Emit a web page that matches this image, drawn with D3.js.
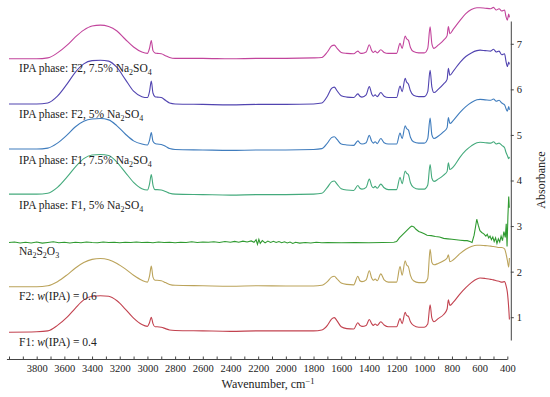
<!DOCTYPE html>
<html>
<head>
<meta charset="utf-8">
<script src="https://cdn.jsdelivr.net/npm/d3@7"></script>
<style>
  body { margin: 0; background: white; }
  text { font-family: "Liberation Serif", "DejaVu Serif", serif; fill: #222; }
</style>
</head>
<body>
<script>
// Data
const wavenumbers = [4000, 3800, 3720, 3650, 3580, 3520, 3460, 3400, 3340, 3280,
  3220, 3160, 3100, 3040, 3000, 2985, 2972, 2960, 2945, 2930,
  2900, 2870, 2840, 2800, 2600, 2400, 2200, 2000, 1800, 1740,
  1700, 1670, 1650, 1630, 1600, 1560, 1510, 1480, 1465, 1450,
  1420, 1397, 1380, 1368, 1355, 1340, 1314, 1290, 1260, 1200,
  1175, 1160, 1138, 1128, 1115, 1100, 1078, 1040, 1000, 975,
  958, 945, 930, 900, 860, 835, 826, 815, 790, 740,
  700, 660, 620, 597, 560, 520, 500, 480, 460, 440,
  420, 410, 400, 390, 385];

const f1Ipa04 = [0.67, 0.68, 0.70, 0.82, 1.00, 1.20, 1.38, 1.46, 1.47, 1.46,
  1.36, 1.18, 0.98, 0.84, 0.80, 0.88, 1.00, 0.86, 0.79, 0.79,
  0.78, 0.75, 0.72, 0.71, 0.70, 0.69, 0.70, 0.70, 0.70, 0.72,
  0.82, 0.96, 0.99, 0.92, 0.79, 0.75, 0.74, 0.88, 0.82, 0.80,
  0.82, 0.95, 0.86, 0.82, 0.85, 0.82, 0.90, 0.83, 0.79, 0.79,
  0.97, 0.86, 1.11, 1.04, 1.02, 0.90, 0.82, 0.78, 0.78, 0.85,
  1.27, 0.98, 0.90, 0.97, 1.06, 1.18, 1.38, 1.26, 1.33, 1.52,
  1.65, 1.76, 1.84, 1.86, 1.85, 1.83, 1.82, 1.80, 1.79, 1.77,
  1.78, 1.70, 1.55, 1.20, 0.95];

const f2Ipa06 = [1.67, 1.67, 1.69, 1.78, 1.93, 2.08, 2.20, 2.27, 2.29, 2.26,
  2.18, 2.06, 1.92, 1.81, 1.77, 1.90, 2.12, 1.88, 1.81, 1.81,
  1.80, 1.76, 1.72, 1.70, 1.69, 1.68, 1.69, 1.685, 1.685, 1.70,
  1.78, 1.88, 1.90, 1.84, 1.75, 1.72, 1.71, 1.90, 1.80, 1.78,
  1.82, 2.02, 1.86, 1.81, 1.84, 1.80, 1.95, 1.82, 1.77, 1.77,
  2.11, 1.92, 2.24, 2.15, 2.11, 1.92, 1.80, 1.76, 1.76, 1.85,
  2.49, 2.20, 2.15, 2.18, 2.24, 2.30, 2.37, 2.22, 2.26, 2.40,
  2.49, 2.55, 2.58, 2.58, 2.57, 2.56, 2.55, 2.54, 2.53, 2.53,
  2.50, 2.40, 2.25, 2.10, 2.30];

const ipaF1Na5 = [3.70, 3.70, 3.72, 3.85, 4.08, 4.30, 4.48, 4.56, 4.57, 4.55,
  4.40, 4.18, 3.96, 3.82, 3.79, 3.92, 4.13, 3.90, 3.80, 3.80,
  3.79, 3.76, 3.72, 3.70, 3.69, 3.68, 3.69, 3.69, 3.70, 3.72,
  3.85, 3.97, 3.99, 3.92, 3.82, 3.79, 3.78, 3.89, 3.83, 3.81,
  3.85, 4.03, 3.88, 3.84, 3.87, 3.83, 3.92, 3.84, 3.80, 3.80,
  4.07, 3.93, 4.21, 4.16, 4.13, 3.95, 3.85, 3.81, 3.81, 3.90,
  4.35, 4.05, 3.98, 4.03, 4.12, 4.20, 4.39, 4.24, 4.30, 4.52,
  4.66, 4.76, 4.83, 4.84, 4.83, 4.82, 4.85, 4.80, 4.82, 4.77,
  4.72, 4.62, 4.55, 4.48, 4.52];

const ipaF1Na75 = [4.69, 4.69, 4.71, 4.82, 5.00, 5.18, 5.30, 5.35, 5.36, 5.33,
  5.20, 5.02, 4.87, 4.80, 4.78, 4.88, 5.05, 4.86, 4.81, 4.80,
  4.79, 4.75, 4.70, 4.68, 4.67, 4.66, 4.67, 4.67, 4.68, 4.70,
  4.82, 4.94, 4.96, 4.90, 4.80, 4.78, 4.77, 4.87, 4.82, 4.80,
  4.83, 4.99, 4.86, 4.82, 4.85, 4.81, 4.92, 4.83, 4.80, 4.80,
  5.04, 4.92, 5.20, 5.14, 5.11, 4.95, 4.85, 4.82, 4.82, 4.92,
  5.37, 5.00, 4.92, 4.97, 5.07, 5.16, 5.38, 5.25, 5.32, 5.50,
  5.62, 5.71, 5.77, 5.78, 5.77, 5.76, 5.79, 5.74, 5.76, 5.70,
  5.66, 5.58, 5.52, 5.62, 5.55];

const ipaF2Na5 = [5.68, 5.68, 5.70, 5.85, 6.12, 6.38, 6.56, 6.63, 6.64, 6.62,
  6.48, 6.22, 5.96, 5.84, 5.82, 5.95, 6.18, 5.92, 5.84, 5.83,
  5.82, 5.76, 5.70, 5.68, 5.67, 5.66, 5.67, 5.67, 5.68, 5.70,
  5.85, 6.02, 6.05, 5.97, 5.86, 5.83, 5.82, 5.90, 5.85, 5.83,
  5.88, 6.06, 5.90, 5.85, 5.88, 5.84, 5.93, 5.85, 5.82, 5.82,
  6.07, 5.95, 6.24, 6.16, 6.12, 5.97, 5.87, 5.84, 5.84, 5.95,
  6.42, 6.05, 5.93, 6.00, 6.12, 6.22, 6.46, 6.31, 6.40, 6.60,
  6.72, 6.80, 6.85, 6.86, 6.85, 6.84, 6.88, 6.82, 6.84, 6.76,
  6.78, 6.62, 6.50, 6.60, 6.55];

const ipaF2Na75 = [6.67, 6.67, 6.69, 6.80, 6.97, 7.15, 7.30, 7.39, 7.41, 7.38,
  7.28, 7.10, 6.93, 6.82, 6.79, 6.90, 7.07, 6.85, 6.80, 6.79,
  6.78, 6.74, 6.70, 6.68, 6.68, 6.67, 6.68, 6.68, 6.69, 6.70,
  6.82, 6.95, 6.97, 6.90, 6.81, 6.79, 6.78, 6.84, 6.80, 6.79,
  6.82, 6.98, 6.85, 6.81, 6.84, 6.80, 6.87, 6.81, 6.79, 6.79,
  7.01, 6.90, 7.17, 7.11, 7.08, 6.92, 6.83, 6.80, 6.80, 6.90,
  7.37, 7.00, 6.90, 6.97, 7.08, 7.18, 7.38, 7.22, 7.32, 7.52,
  7.66, 7.75, 7.79, 7.79, 7.78, 7.77, 7.80, 7.74, 7.77, 7.72,
  7.74, 7.60, 7.52, 7.65, 7.58];

// Na2S2O3 has its own (noisy) points: [wavenumber, absorbance]
const na2s2o3 = [[4000, 2.64], [3960, 2.65], [3920, 2.63], [3880, 2.645], [3840, 2.63],
  [3800, 2.65], [3760, 2.625], [3720, 2.64], [3680, 2.655], [3640, 2.635], [3600, 2.645],
  [3560, 2.63], [3520, 2.645], [3480, 2.635], [3440, 2.65], [3400, 2.64], [3360, 2.635],
  [3320, 2.65], [3280, 2.64], [3240, 2.645], [3200, 2.635], [3160, 2.645], [3120, 2.64],
  [3080, 2.65], [3040, 2.64], [3000, 2.645], [2960, 2.635], [2920, 2.65], [2880, 2.64],
  [2840, 2.645], [2800, 2.635], [2760, 2.645], [2720, 2.64], [2680, 2.655], [2640, 2.64],
  [2600, 2.65], [2560, 2.645], [2520, 2.655], [2480, 2.64], [2440, 2.66], [2400, 2.645],
  [2370, 2.665], [2340, 2.645], [2310, 2.67], [2280, 2.65], [2250, 2.675], [2230, 2.645],
  [2215, 2.70], [2205, 2.60], [2195, 2.71], [2185, 2.62], [2170, 2.68], [2150, 2.63],
  [2130, 2.67], [2110, 2.64], [2090, 2.665], [2070, 2.64], [2050, 2.66], [2030, 2.635],
  [2010, 2.655], [1990, 2.63], [1970, 2.65], [1950, 2.62], [1930, 2.645], [1900, 2.625],
  [1860, 2.64], [1820, 2.63], [1780, 2.645], [1740, 2.635], [1700, 2.64], [1600, 2.635],
  [1500, 2.64], [1400, 2.635], [1300, 2.64], [1220, 2.645], [1200, 2.66], [1180, 2.74],
  [1160, 2.80], [1140, 2.86], [1120, 2.92], [1100, 2.98], [1090, 3.0], [1075, 2.98],
  [1060, 2.93], [1040, 2.88], [1020, 2.86], [1000, 2.83], [980, 2.80], [950, 2.79],
  [920, 2.77], [890, 2.76], [860, 2.73], [830, 2.72], [800, 2.71], [770, 2.70],
  [740, 2.69], [710, 2.68], [690, 2.68], [670, 2.66], [655, 2.64], [640, 2.80],
  [630, 2.98], [621, 3.15], [610, 3.02], [598, 2.90], [585, 2.86], [570, 2.83],
  [555, 2.78], [545, 2.82], [535, 2.74], [525, 2.78], [515, 2.70], [505, 2.76],
  [495, 2.66], [485, 2.74], [475, 2.62], [465, 2.72], [455, 2.65], [445, 2.78],
  [435, 2.68], [425, 2.88], [415, 2.75], [408, 3.05], [402, 2.55], [396, 3.20],
  [390, 3.65], [386, 3.40]];

const seriesLabels = [
  'F1: <i>w</i>(IPA) = 0.4',
  'F2: <i>w</i>(IPA) = 0.6',
  'Na<sub>2</sub>S<sub>2</sub>O<sub>3</sub>',
  'IPA phase: F1, 5% Na<sub>2</sub>SO<sub>4</sub>',
  'IPA phase: F1, 7.5% Na<sub>2</sub>SO<sub>4</sub>',
  'IPA phase: F2, 5% Na<sub>2</sub>SO<sub>4</sub>',
  'IPA phase: F2, 7.5% Na<sub>2</sub>SO<sub>4</sub>'
];
const seriesColors = ['#c2424f', '#bba35a', '#2f9a30', '#44aa7c', '#3f7cbd', '#5144b0', '#c2449c'];

const xLabelValues = [3800, 3600, 3400, 3200, 3000, 2800, 2600, 2400, 2200,
  2000, 1800, 1600, 1400, 1200, 1000, 800, 600, 400];
const yTickValues = [1, 2, 3, 4, 5, 6, 7];

let svg = '';

window.onload = function () {
  svg = d3.select('body')
    .append('svg')
    .attr('width', 550)
    .attr('height', 397);
  drawPlot();
}

function drawPlot() {
  let map = drawAxes();
  makeLabels();

  let ipaSeries = [f1Ipa04, f2Ipa06, null, ipaF1Na5, ipaF1Na75, ipaF2Na5, ipaF2Na75];
  let allSeries = ipaSeries.map((vals, i) => {
    if (vals === null) return na2s2o3;
    return wavenumbers.map((w, j) => [w, vals[j]]);
  });

  let smooth = d3.line()
    .x((d) => map.xScale(d[0]))
    .y((d) => map.yScale(d[1]))
    .curve(d3.curveMonotoneX);
  let raw = d3.line()
    .x((d) => map.xScale(d[0]))
    .y((d) => map.yScale(d[1]));

  svg.selectAll('.spectrum')
    .data(allSeries)
    .enter()
    .append('path')
    .attr('class', 'spectrum')
    .attr('fill', 'none')
    .attr('stroke', (d, i) => seriesColors[i])
    .attr('stroke-width', 1.1)
    .attr('d', (d, i) => i === 2 ? raw(d) : smooth(d));

  // series names, one above each baseline
  svg.selectAll('.name')
    .data(seriesLabels)
    .enter()
    .append('text')
    .attr('class', 'name')
    .attr('x', 19)
    .attr('y', (d, i) => map.yScale(i + 0.37))
    .style('font-size', '11.5px')
    .each(function (d) { addRichText(d3.select(this), d); });
}

// turn the little <i>/<sub> markup into tspans
function addRichText(el, str) {
  let parts = str.split(/(<sub>.*?<\/sub>|<i>.*?<\/i>)/).filter((p) => p.length);
  let shifted = false;
  parts.forEach((p) => {
    let t = el.append('tspan');
    if (p.startsWith('<sub>')) {
      t.text(p.replace(/<\/?sub>/g, ''))
        .style('font-size', '8px')
        .attr('dy', shifted ? 0 : 3);
      shifted = true;
    } else {
      t.text(p.replace(/<\/?i>/g, ''));
      if (p.startsWith('<i>')) t.style('font-style', 'italic');
      if (shifted) { t.attr('dy', -3); shifted = false; }
    }
  });
}

// Axis & Labels
function makeLabels() {
  let xl = svg.append('text')
    .attr('x', 268)
    .attr('y', 388)
    .attr('text-anchor', 'middle')
    .style('font-size', '12px')
    .text('Wavenumber, cm');
  xl.append('tspan')
    .attr('dy', -4)
    .style('font-size', '8.5px')
    .text('\u22121');

  svg.append('text')
    .attr('transform', 'translate(545, 180)rotate(-90)')
    .attr('text-anchor', 'middle')
    .style('font-size', '12px')
    .text('Absorbance');
}

function drawAxes() {
  let xScale = d3.scaleLinear()
    .domain([4000, 375])
    .range([9, 510.8]);

  let yScale = d3.scaleLinear()
    .domain([0.5, 7.5])
    .range([340, 21]);

  // x-axis: small ticks every 100 pointing up, labels every 200
  let xAxis = d3.axisBottom(xScale)
    .tickValues(d3.range(4000, 399, -100))
    .tickSizeInner(-3)
    .tickSizeOuter(0)
    .tickPadding(5)
    .tickFormat((v) => xLabelValues.includes(v) ? v : '');
  let gx = svg.append('g')
    .attr('transform', 'translate(0, 359.5)')
    .call(xAxis);
  gx.select('.domain').remove();
  gx.append('line')
    .attr('x1', xScale(4015))
    .attr('x2', xScale(398))
    .attr('stroke', '#444');
  gx.selectAll('.tick line').attr('stroke', '#444');
  gx.selectAll('text')
    .style('font-size', '10.5px')
    .style('font-family', '"Liberation Serif", serif')
    .attr('fill', '#222');

  // y-axis on the right
  let yAxis = d3.axisRight(yScale)
    .tickValues(yTickValues)
    .tickFormat(d3.format('d'))
    .tickSizeInner(3)
    .tickSizeOuter(0)
    .tickPadding(3);
  let gy = svg.append('g')
    .attr('transform', 'translate(' + xScale(375) + ', 0)')
    .call(yAxis);
  gy.select('.domain').attr('stroke', '#444');
  gy.selectAll('.tick line').attr('stroke', '#444');
  gy.selectAll('text')
    .style('font-size', '10.5px')
    .style('font-family', '"Liberation Serif", serif')
    .attr('fill', '#222');

  return {
    xScale: xScale,
    yScale: yScale
  };
}
</script>
</body>
</html>
